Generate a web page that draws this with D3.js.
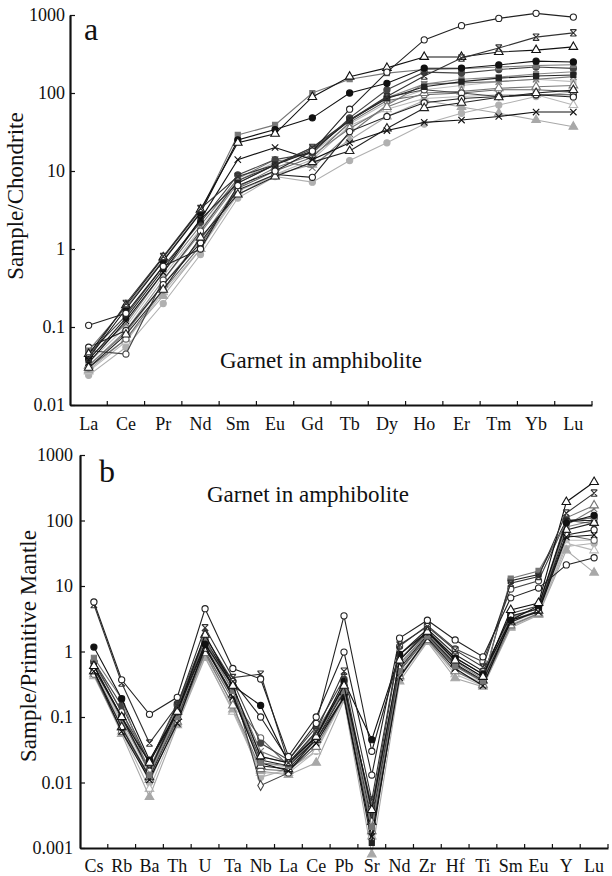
<!DOCTYPE html>
<html>
<head>
<meta charset="utf-8">
<script src="https://cdn.jsdelivr.net/npm/d3@7"></script>
<style>
  body { margin: 0; background: #fff; }
  svg { display: block; }
</style>
</head>
<body>
<svg width="612" height="876"></svg>
<script>
// element order, chondrite normalised (a) and primitive mantle normalised (b)
const reeLabels = ["La","Ce","Pr","Nd","Sm","Eu","Gd","Tb","Dy","Ho","Er","Tm","Yb","Lu"];
const spiderLabels = ["Cs","Rb","Ba","Th","U","Ta","Nb","La","Ce","Pb","Sr","Nd","Zr","Hf","Ti","Sm","Eu","Y","Lu"];

const reeTicks = [0.01, 0.1, 1, 10, 100, 1000];
const spiderTicks = [0.001, 0.01, 0.1, 1, 10, 100, 1000];

// one row per garnet analysis
const reeValues = [
  [0.024, 0.055, 0.2, 0.85, 4.5, 8.5, 7.2, 13.6, 23, 40, 55, 70, 90, 104],
  [0.027, 0.065, 0.28, 1.0, 5, 9, 14, 38, 62, 85, 90, 95, 95, 70],
  [0.028, 0.07, 0.25, 1.0, 5.5, 9, 12, 25, 50, 80, 66, 55, 45, 37],
  [0.035, 0.1, 0.45, 1.8, 7.5, 13, 17, 40, 75, 110, 125, 140, 150, 140],
  [0.032, 0.09, 0.4, 1.6, 7, 12, 20, 45, 87, 130, 150, 160, 175, 187],
  [0.04, 0.11, 0.5, 2.0, 8, 14, 11, 30, 70, 130, 135, 140, 150, 162],
  [0.03, 0.07, 0.3, 1.1, 6, 10, 15, 42, 80, 95, 100, 110, 110, 104],
  [0.032, 0.085, 0.35, 1.3, 6.2, 11, 16, 35, 66, 100, 105, 115, 120, 125],
  [0.05, 0.045, 0.4, 1.7, 7.5, 12, 19, 44, 88, 110, 100, 90, 95, 95],
  [0.045, 0.14, 0.6, 2.2, 8.9, 14, 17, 48, 110, 185, 180, 200, 215, 207],
  [0.038, 0.13, 0.55, 2.4, 7, 12, 18, 45, 85, 120, 140, 155, 165, 170],
  [0.055, 0.09, 0.35, 1.2, 5.7, 9, 8.3, 32, 50, 75, 85, 90, 95, 89],
  [0.03, 0.08, 0.3, 1.4, 5, 8.5, 13, 18, 35, 64, 75, 88, 100, 109],
  [0.035, 0.12, 0.5, 2.4, 14, 20, 14, 23, 33, 42, 45, 50, 57, 57],
  [0.05, 0.18, 0.72, 3.0, 29, 39, 100, 150, 180, 200, 205, 215, 225, 230],
  [0.04, 0.17, 0.7, 2.9, 25, 34, 48, 100, 133, 208, 208, 229, 256, 250],
  [0.045, 0.19, 0.78, 3.2, 23, 30, 89, 162, 210, 290, 290, 335, 355, 390],
  [0.04, 0.2, 0.8, 3.3, 8.5, 12, 20, 45, 90, 165, 280, 377, 520, 590],
  [0.105, 0.15, 0.6, 1.0, 6.5, 10, 18, 62, 185, 480, 730, 905, 1050, 940]
];

const spiderValues = [
  [0.5, 0.08, 0.01, 0.09, 0.9, 0.15, 0.012, 0.016, 0.03, 0.22, 0.002, 0.45, 1.5, 0.5, 0.33, 2.6, 3.8, 40, 45],
  [0.42, 0.06, 0.008, 0.08, 0.85, 0.12, 0.014, 0.014, 0.03, 0.19, 0.0015, 0.4, 1.45, 0.45, 0.3, 2.4, 3.7, 45, 35],
  [0.45, 0.055, 0.006, 0.075, 0.8, 0.13, 0.015, 0.013, 0.02, 0.18, 0.0008, 0.35, 1.4, 0.39, 0.29, 2.3, 3.6, 35, 16],
  [0.55, 0.08, 0.012, 0.1, 1.0, 0.2, 0.02, 0.017, 0.04, 0.22, 0.0025, 0.5, 1.6, 0.6, 0.33, 2.8, 4.0, 50, 50],
  [0.6, 0.09, 0.014, 0.11, 1.3, 0.25, 0.025, 0.02, 0.055, 0.28, 0.003, 0.6, 1.9, 0.7, 0.38, 3.2, 4.6, 80, 100],
  [0.65, 0.12, 0.016, 0.14, 1.6, 0.28, 0.03, 0.02, 0.06, 0.3, 0.0018, 0.65, 1.9, 0.75, 0.4, 3.4, 4.5, 85, 150],
  [0.45, 0.06, 0.013, 0.09, 1.0, 0.18, 0.048, 0.018, 0.05, 0.25, 0.0045, 0.5, 1.7, 0.6, 0.35, 3.0, 4.2, 60, 50],
  [0.5, 0.07, 0.011, 0.085, 0.95, 0.15, 0.016, 0.015, 0.035, 0.2, 0.0018, 0.42, 1.5, 0.5, 0.31, 2.5, 3.8, 110, 170],
  [0.7, 0.12, 0.02, 0.15, 1.5, 0.3, 0.009, 0.014, 0.05, 0.3, 0.004, 1.2, 2.5, 1.1, 0.7, 9, 12, 100, 90],
  [0.7, 0.15, 0.02, 0.16, 1.7, 0.35, 0.04, 0.022, 0.07, 0.38, 0.0035, 0.75, 2.1, 0.8, 0.45, 3.8, 5.0, 100, 110],
  [0.6, 0.1, 0.015, 0.12, 1.2, 0.22, 0.022, 0.018, 0.045, 0.2, 0.0012, 0.5, 1.7, 0.62, 0.35, 12, 15, 100, 100],
  [0.55, 0.1, 0.015, 0.13, 1.4, 0.35, 0.1, 0.022, 0.08, 3.5, 0.03, 0.9, 2.2, 0.9, 0.5, 3.5, 4.5, 60, 72],
  [0.5, 0.07, 0.012, 0.1, 1.1, 0.22, 0.018, 0.016, 0.045, 0.24, 0.0025, 0.55, 1.8, 0.65, 0.36, 2.8, 4.2, 72, 92],
  [0.5, 0.06, 0.011, 0.08, 1.2, 0.2, 0.02, 0.015, 0.04, 0.2, 0.0015, 0.4, 1.6, 0.55, 0.3, 3.0, 4.0, 56, 60],
  [0.8, 0.19, 0.013, 0.1, 1.5, 0.25, 0.02, 0.018, 0.06, 0.25, 0.0021, 0.5, 1.7, 0.6, 0.35, 13, 17, 92, 113],
  [1.17, 0.19, 0.022, 0.12, 1.3, 0.3, 0.15, 0.02, 0.05, 0.35, 0.045, 0.9, 2.0, 0.8, 0.45, 3.0, 5.0, 92, 120],
  [0.6, 0.1, 0.02, 0.12, 1.8, 0.3, 0.025, 0.02, 0.05, 0.3, 0.0038, 0.73, 2.0, 0.73, 0.41, 4.3, 5.5, 192, 387],
  [5.2, 0.33, 0.04, 0.15, 2.3, 0.4, 0.45, 0.02, 0.06, 0.5, 0.0054, 1.26, 2.4, 1.05, 0.58, 11, 14, 130, 262],
  [5.7, 0.37, 0.11, 0.2, 4.5, 0.55, 0.38, 0.025, 0.1, 0.98, 0.013, 1.6, 3.0, 1.5, 0.83, 6.6, 9.3, 21, 27]
];

// same sample order for both panels
const markers = ["fcircle","otri","ftri","square","square","x","ocircle","otri","ocircle",
                 "fcircle","square","ocircle","otri","x","square","fcircle","otri","ast","ocircle"];
const colors = ["#b0b0b0","#b8b8b8","#a8a8a8","#bdbdbd","#888","#777","#666","#777","#444",
                "#444","#222","#222","#222","#111","#777","#111","#111","#333","#222"];

const serif = "'Liberation Serif'";

const svg = d3.select("svg");

function symbolPath(type) {
  if (type === "ocircle" || type === "fcircle") return d3.symbol(d3.symbolCircle, 30)();
  if (type === "otri" || type === "ftri") return d3.symbol(d3.symbolTriangle, 32)();
  if (type === "square") return d3.symbol(d3.symbolSquare, 26)();
  if (type === "x") return "M-3.2,-3.2L3.2,3.2M-3.2,3.2L3.2,-3.2";
  if (type === "ast") return "M-3.2,-3.2L3.2,3.2M-3.2,3.2L3.2,-3.2M-3.2,-3.2L3.2,-3.2M-3.2,3.2L3.2,3.2";
  return d3.symbol(d3.symbolDiamond, 28)();
}

function drawPanel(cfg) {
  const g = svg.append("g");
  const x = d3.scaleBand().domain(cfg.labels).range([cfg.x0, cfg.x1]);
  const y = d3.scaleLog().domain([cfg.ticks[0], 1000]).range([cfg.y0, cfg.y1]);
  const bw = x.bandwidth();

  const line = d3.line()
    .x((d, i) => x(cfg.labels[i]) + bw / 2)
    .y(d => y(d));

  const rows = g.selectAll("g.row")
    .data(cfg.values)
    .enter()
    .append("g")
    .attr("class", "row");

  rows.append("path")
    .attr("d", d => line(d))
    .attr("fill", "none")
    .attr("stroke", (d, i) => colors[i])
    .attr("stroke-width", 1.1);

  rows.each(function (vals, i) {
    const type = markers[i];
    const c = colors[i];
    const open = type === "ocircle" || type === "otri";
    d3.select(this).selectAll("path.m")
      .data(vals)
      .enter()
      .append("path")
      .attr("class", "m")
      .attr("transform", (d, j) => "translate(" + (x(cfg.labels[j]) + bw / 2) + "," + y(d) + ")")
      .attr("d", (d, j) => (cfg.diamondAt && cfg.diamondAt[0] === i && cfg.diamondAt[1] === j) ? symbolPath("diamond") : symbolPath(type))
      .attr("fill", open ? "#fff" : (type === "x" || type === "ast" ? "none" : c))
      .attr("stroke", c)
      .attr("stroke-width", 1.1);
  });

  // y axis
  const yAxis = g.append("g")
    .attr("transform", "translate(" + cfg.x0 + ",0)")
    .call(d3.axisLeft(y).tickValues(cfg.ticks).tickSize(-5).tickSizeOuter(0)
      .tickPadding(cfg.yPad).tickFormat(d => String(d)));
  yAxis.select(".domain").attr("stroke", "#111").attr("stroke-width", 2.2);
  yAxis.selectAll(".tick line").attr("stroke", "#111").attr("stroke-width", 1.2);
  yAxis.selectAll("text").style("font-family", serif).attr("font-size", 18).attr("fill", "#111");

  // x axis: labels at band centres, ticks at band edges
  const xAxis = g.append("g")
    .attr("transform", "translate(0," + cfg.y0 + ")")
    .call(d3.axisBottom(x).tickSize(0).tickSizeOuter(0).tickPadding(cfg.xPad));
  xAxis.select(".domain").attr("stroke", "#111").attr("stroke-width", 2.2);
  xAxis.selectAll("text").style("font-family", serif).attr("font-size", 18).attr("fill", "#111");
  xAxis.selectAll("line.edge")
    .data(cfg.labels)
    .enter()
    .append("line")
    .attr("class", "edge")
    .attr("x1", d => x(d) + bw).attr("x2", d => x(d) + bw)
    .attr("y1", 0).attr("y2", -4)
    .attr("stroke", "#111").attr("stroke-width", 1.2);

  g.append("text")
    .attr("x", cfg.letterX).attr("y", cfg.letterY)
    .style("font-family", serif)
    .attr("font-size", 32).attr("fill", "#111")
    .text(cfg.letter);

  g.append("text")
    .attr("x", cfg.noteX).attr("y", cfg.noteY)
    .style("font-family", serif)
    .attr("font-size", 23).attr("fill", "#111")
    .text("Garnet in amphibolite");

  g.append("text")
    .attr("transform", "translate(" + cfg.titleX + "," + cfg.titleY + ") rotate(-90)")
    .attr("text-anchor", "middle")
    .style("font-family", serif)
    .attr("font-size", 23).attr("fill", "#111")
    .text(cfg.title);
}

drawPanel({
  labels: reeLabels, values: reeValues, ticks: reeTicks,
  x0: 70, x1: 592, y0: 405, y1: 15, yPad: 5, xPad: 12,
  letter: "a", letterX: 84, letterY: 40,
  noteX: 220, noteY: 368,
  title: "Sample/Chondrite", titleX: 23, titleY: 196
});

drawPanel({
  labels: spiderLabels, values: spiderValues, ticks: spiderTicks,
  x0: 80, x1: 608, y0: 848, y1: 455, yPad: 7, xPad: 11,
  letter: "b", letterX: 99, letterY: 482,
  noteX: 207, noteY: 502,
  title: "Sample/Primitive Mantle", titleX: 36, titleY: 646,
  diamondAt: [8, 6]
});
</script>
</body>
</html>
